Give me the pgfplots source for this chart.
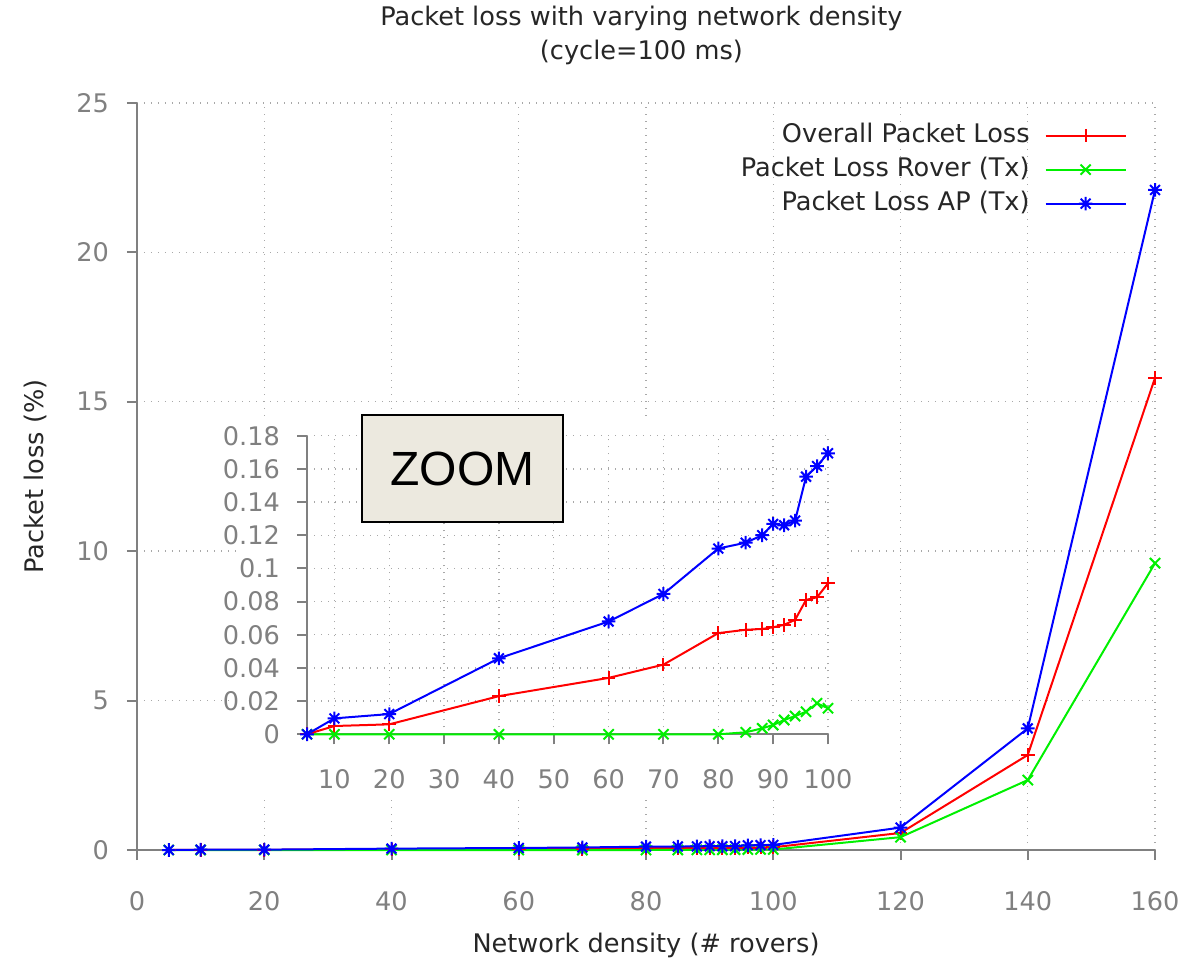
\documentclass[border=0pt]{standalone}
\usepackage{fontspec}
\setmainfont{DejaVu Sans}
\newfontfamily\arialfont{Liberation Sans}
\usepackage{pgfplots}
\usepackage{pgfplotstable}
\pgfplotsset{compat=1.18}

\definecolor{gpgray}{HTML}{808080}
\definecolor{gpgrid}{HTML}{A8A8A8}
\definecolor{zoombg}{HTML}{ECE9DF}
\definecolor{gpred}{HTML}{FF0000}
\definecolor{gpgreen}{HTML}{00F000}
\definecolor{gpblue}{HTML}{0000FF}
\definecolor{txt}{HTML}{262626}

\pgfdeclareplotmark{gpstar}{%
  \pgfpathmoveto{\pgfqpoint{-\pgfplotmarksize}{0pt}}\pgfpathlineto{\pgfqpoint{\pgfplotmarksize}{0pt}}%
  \pgfpathmoveto{\pgfqpoint{0pt}{-\pgfplotmarksize}}\pgfpathlineto{\pgfqpoint{0pt}{\pgfplotmarksize}}%
  \pgfpathmoveto{\pgfqpoint{-.72\pgfplotmarksize}{-.72\pgfplotmarksize}}\pgfpathlineto{\pgfqpoint{.72\pgfplotmarksize}{.72\pgfplotmarksize}}%
  \pgfpathmoveto{\pgfqpoint{-.72\pgfplotmarksize}{.72\pgfplotmarksize}}\pgfpathlineto{\pgfqpoint{.72\pgfplotmarksize}{-.72\pgfplotmarksize}}%
  \pgfusepathqstroke}

\pgfplotstableread{
x    red     green   blue
5    0       0       0
10   0.005   0       0.0096
20   0.006   0       0.0122
40   0.023   0       0.0458
60   0.034   0       0.068
70   0.042   0       0.0846
80   0.061   0       0.112
85   0.063   0.0012  0.1155
88   0.0635  0.0036  0.120
90   0.0645  0.0056  0.1268
92   0.066   0.0086  0.126
94   0.069   0.011   0.1288
96   0.081   0.0136  0.1553
98   0.0826  0.0187  0.1617
100  0.091   0.0157  0.1694
120  0.57    0.43    0.75
140  3.18    2.34    4.07
160  15.8    9.6     22.09
}\datatable

\newcommand{\gpfont}{\fontsize{12.8}{17}\selectfont}

\pgfplotsset{
  gpaxis/.style={
    scale only axis,
    axis x line*=bottom, axis y line*=left,
    axis line style={gpgray, line width=1pt},
    tick style={gpgray, line width=1pt},
    tick align=outside, major tick length=5pt,
    grid=major,
    major grid style={gpgrid, line width=0.7pt, dash pattern=on 0.7pt off 2.8pt},
    tick label style={font=\gpfont, text=gpgray},
    /pgf/number format/assume math mode=true,
    clip=false,
  },
  redst/.style={gpred, line width=1pt, mark=+, mark size=3.4pt, mark options={solid}},
  greenst/.style={gpgreen, line width=1pt, mark=x, mark size=3.6pt, mark options={solid}},
  bluest/.style={gpblue, line width=1pt, mark=gpstar, mark size=3.4pt, mark options={solid}},
}

\begin{document}
\begin{tikzpicture}
\path[use as bounding box] (-68.5pt,-56pt) rectangle (524.5pt,425pt);
\begin{axis}[gpaxis,
  at={(0pt,0pt)}, anchor=south west,
  width=509pt, height=373.5pt,
  xmin=0, xmax=160, ymin=0, ymax=25,
  xtick={0,20,40,60,80,100,120,140,160},
  ytick={0,5,10,15,20,25},
  xticklabel style={yshift=-12pt},
  yticklabel style={xshift=-5.5pt},
  xlabel={Network density (\# rovers)},
  ylabel={Packet loss (\%)},
  title={Packet loss with varying network density\\(cycle=100 ms)},
  title style={at={(axis description cs:0.4955,1.075)}, anchor=center, align=center, font=\gpfont, text=txt},
  xlabel style={at={(axis description cs:0.5,-0.128)}, anchor=center, font=\gpfont, text=txt},
  ylabel style={at={(axis description cs:-0.1,0.5)}, anchor=center, font=\gpfont, text=txt},
  legend plot pos=right,
  legend cell align=right,
  legend image code/.code={\path (0pt,0pt); \draw[mark repeat=2,mark phase=2,#1] plot coordinates {(5pt,0pt)(25pt,0pt)(45pt,0pt)};},
  legend style={draw=none, fill=none, at={(0.9784,0.985)}, anchor=north east, font=\gpfont, text=txt,
    row sep=0pt, nodes={text height=9.5pt, text depth=2.5pt, inner sep=2.5pt}},
]
\addplot[redst] table[x=x,y=red]{\datatable};
\addlegendentry{Overall Packet Loss}
\addplot[greenst] table[x=x,y=green]{\datatable};
\addlegendentry{Packet Loss Rover (Tx)}
\addplot[bluest] table[x=x,y=blue]{\datatable};
\addlegendentry{Packet Loss AP (Tx)}
\end{axis}

\fill[white] (52.5pt,25pt) rectangle (355pt,215pt);

\begin{axis}[gpaxis,
  at={(85pt,57.85pt)}, anchor=south west,
  width=260.5pt, height=149.3pt,
  xmin=5, xmax=100, ymin=0, ymax=0.18,
  xtick={10,20,30,40,50,60,70,80,90,100},
  ytick={0,0.02,0.04,0.06,0.08,0.1,0.12,0.14,0.16,0.18},
  yticklabels={0,0.02,0.04,0.06,0.08,0.1,0.12,0.14,0.16,0.18},
  xticklabel style={yshift=-9pt},
  yticklabel style={xshift=-5pt},
  scaled y ticks=false,
  axis background/.style={fill=white},
]
\addplot[redst] table[x=x,y=red, skip coords between index={15}{18}]{\datatable};
\addplot[greenst] table[x=x,y=green, skip coords between index={15}{18}]{\datatable};
\addplot[bluest] table[x=x,y=blue, skip coords between index={15}{18}]{\datatable};
\end{axis}

\node[draw=black, line width=0.9pt, fill=zoombg, minimum width=100.5pt, minimum height=53.5pt, inner sep=0pt,
  font=\arialfont\fontsize{24}{24}\selectfont] at (162.75pt,190.75pt) {ZOOM};
\end{tikzpicture}
\end{document}
